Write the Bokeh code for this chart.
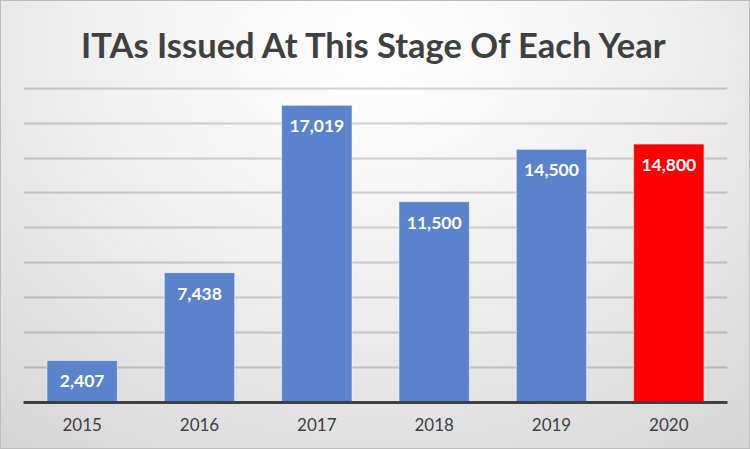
from bokeh.plotting import figure
from bokeh.models import ColumnDataSource, FactorRange, Range1d, SingleIntervalTicker
from bokeh.core.properties import value
from bokeh.embed import file_html
from bokeh.resources import INLINE

title_text = "ITAs Issued At This Stage Of Each Year"
years = ["2015", "2016", "2017", "2018", "2019", "2020"]
itas = [2407, 7438, 17019, 11500, 14500, 14800]
labels = ["2,407", "7,438", "17,019", "11,500", "14,500", "14,800"]
colors = ["#5B83CC", "#5B83CC", "#5B83CC", "#5B83CC", "#5B83CC", "#FF0000"]

source = ColumnDataSource(dict(year=years, itas=itas, label=labels, color=colors))

p = figure(
    width=750, height=449,
    x_range=FactorRange(*years, range_padding=0),
    y_range=Range1d(0, 18100),
    output_backend="svg", toolbar_location=None,
    title=title_text,
    min_border_left=23, min_border_right=23, min_border_top=85, min_border_bottom=47,
    y_axis_location=None,
)

p.background_fill_color = None
p.border_fill_color = None
p.outline_line_color = None
p.styles = {
    "background": "radial-gradient(ellipse 85% 120% at 50% 10%, #ffffff 0%, #f4f4f4 35%, #d3d3d3 100%)",
    "box-shadow": "inset 0 0 0 1px #bdbdbd",
}

p.title.text_font = "Lato"
p.title.text_font_size = "34.5px"
p.title.text_font_style = "bold"
p.title.text_color = "#404040"
p.title.align = "center"
p.title.standoff = 43

p.vbar(x="year", top="itas", width=0.6, source=source, fill_color="color",
       line_color="white", line_alpha=0.55, line_width=1)

p.text(x="year", y="itas", text="label", source=source, y_offset=21,
       text_align="center", text_baseline="middle", text_color="white",
       text_font=value("Lato"), text_font_style="bold", text_font_size="17.5px")

p.ygrid.ticker = SingleIntervalTicker(interval=2000)
p.ygrid.grid_line_color = "black"
p.ygrid.grid_line_alpha = 0.17
p.ygrid.grid_line_width = 2
p.xgrid.grid_line_color = None

xa = p.xaxis[0]
xa.axis_line_color = "#404040"
xa.axis_line_width = 3
xa.major_tick_line_color = None
xa.minor_tick_line_color = None
xa.major_label_text_font = "Lato"
xa.major_label_text_font_size = "17px"
xa.major_label_text_color = "#404040"
xa.major_label_standoff = 9

open("out.html", "w").write(file_html(p, INLINE))
